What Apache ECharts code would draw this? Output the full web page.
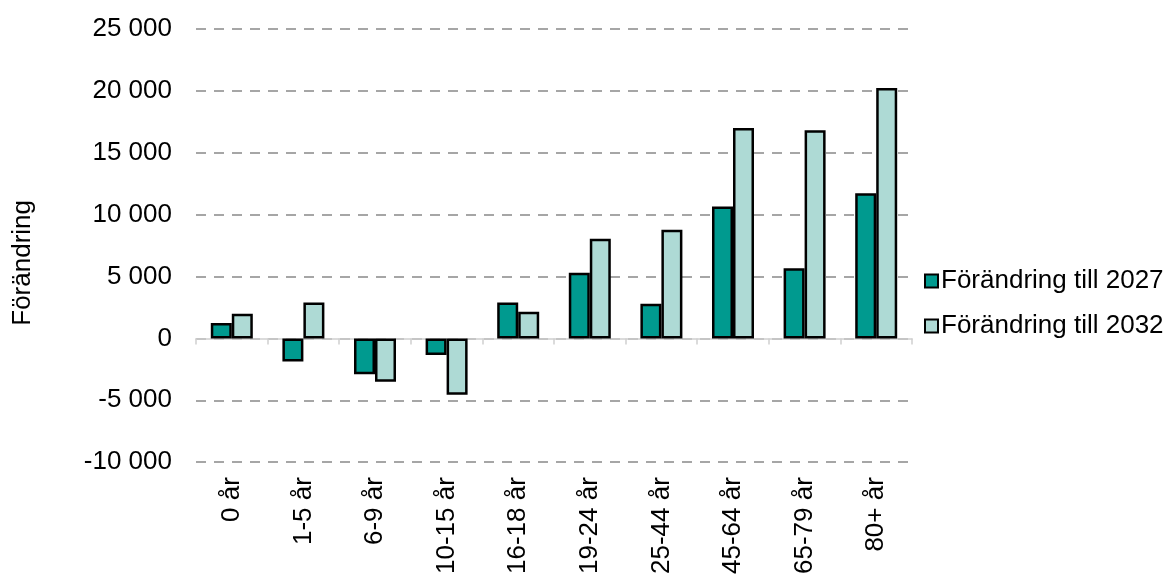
<!DOCTYPE html>
<html>
<head>
<meta charset="utf-8">
<script src="https://cdn.jsdelivr.net/npm/echarts@6/dist/echarts.min.js"></script>
<style>
  html, body { margin: 0; padding: 0; background: #fff; }
  #chart { width: 1171px; height: 577px; }
</style>
</head>
<body>
<div id="chart"></div>
<script>
const categories = ['0 år', '1-5 år', '6-9 år', '10-15 år', '16-18 år', '19-24 år', '25-44 år', '45-64 år', '65-79 år', '80+ år'];
const change2027 = [1250, -1870, -2900, -1340, 2900, 5300, 2800, 10650, 5670, 11730];
const change2032 = [2000, 2900, -3500, -4550, 2150, 8050, 8780, 17000, 16810, 20240];
const yTicks = { min: -10000, max: 25000, interval: 5000 };

const chart = echarts.init(document.getElementById('chart'));
const font = 'Liberation Sans, Arial, sans-serif';

function fmt(v) {
  const s = String(Math.abs(v)).replace(/\B(?=(\d{3})+(?!\d))/g, ' ');
  return (v < 0 ? '-' : '') + s;
}

const option = {
  animation: false,
  textStyle: { fontFamily: font },
  grid: { left: 196, right: 259, top: 29, bottom: 113 },
  legend: {
    orient: 'vertical',
    left: 919,
    top: 263,
    itemGap: 19,
    itemWidth: 13,
    itemHeight: 13,
    icon: 'rect',
    textStyle: { fontSize: 26, color: '#000', fontFamily: font, padding: [0, 0, 0, -2] },
    data: ['Förändring till 2027', 'Förändring till 2032']
  },
  graphic: [{
    type: 'text',
    left: 10,
    top: 200,
    rotation: Math.PI / 2,
    style: { text: 'Förändring', fontSize: 26, fill: '#000', fontFamily: font }
  }],
  xAxis: [{
    type: 'category',
    data: categories,
    position: 'bottom',
    axisLine: { show: false, onZero: false },
    axisTick: { show: false },
    axisLabel: { rotate: 90, margin: 15, fontSize: 26, color: '#000', fontFamily: font, interval: 0 }
  }, {
    type: 'category',
    data: categories,
    position: 'bottom',
    axisLine: { onZero: true, lineStyle: { color: '#d0d0d0', width: 1.5 } },
    axisTick: { show: true, length: 6, lineStyle: { color: '#d0d0d0', width: 1.5 } },
    axisLabel: { show: false }
  }],
  yAxis: {
    type: 'value',
    min: yTicks.min,
    max: yTicks.max,
    interval: yTicks.interval,
    axisLine: { show: false },
    axisTick: { show: false },
    axisLabel: { fontSize: 26, color: '#000', margin: 24, fontFamily: font, formatter: fmt },
    splitLine: { lineStyle: { color: '#a6a6a6', width: 2, type: [10, 8] } }
  },
  series: [{
    name: 'Förändring till 2027',
    type: 'bar',
    data: change2027,
    barWidth: 21,
    barGap: '0%',
    itemStyle: { color: '#009a8f', borderColor: '#000', borderWidth: 2.5 }
  }, {
    name: 'Förändring till 2032',
    type: 'bar',
    data: change2032,
    barWidth: 21,
    barGap: '0%',
    itemStyle: { color: '#aedad5', borderColor: '#000', borderWidth: 2.5 }
  }]
};
chart.setOption(option);
</script>
</body>
</html>
